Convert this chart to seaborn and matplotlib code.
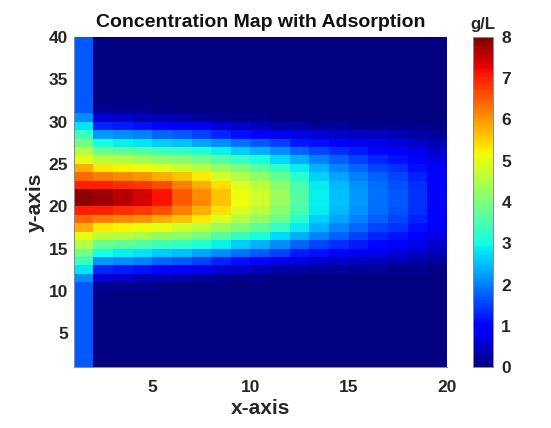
import numpy as np
import pandas as pd
import matplotlib
matplotlib.use("Agg")
import matplotlib.pyplot as plt
import seaborn as sns

# Grid edges (cells lie between consecutive edges)
x_edges = list(range(1, 21))   # 1..20
y_edges = list(range(1, 41))   # 1..40

# Concentration (g/L) per column, from the plume centre line outward.
# Offset 0 is the cell just above / just below y = 21; the profile is
# mirrored about y = 21. Cells beyond the listed offsets take the
# column's background value.
col_profiles = [
    [7.9, 7.0, 6.4, 5.8, 5.0, 4.5, 3.9, 3.4, 2.8, 2.1],
    [7.8, 7.0, 6.2, 5.3, 4.6, 3.8, 3.0, 2.2, 1.3, 0.6, 0.15],
    [7.6, 6.9, 6.1, 5.2, 4.5, 3.7, 2.9, 2.1, 1.2, 0.5, 0.1],
    [7.4, 6.8, 6.0, 5.1, 4.4, 3.6, 2.8, 2.0, 1.1, 0.4, 0.1],
    [7.1, 6.6, 5.8, 5.0, 4.2, 3.4, 2.6, 1.8, 1.0, 0.35, 0.05],
    [6.5, 6.2, 5.6, 4.8, 4.1, 3.3, 2.5, 1.7, 0.9, 0.3],
    [6.1, 5.8, 5.3, 4.6, 3.9, 3.1, 2.3, 1.5, 0.8, 0.2],
    [5.6, 5.4, 4.9, 4.3, 3.6, 2.9, 2.1, 1.3, 0.6, 0.15],
    [5.1, 4.9, 4.5, 4.0, 3.3, 2.6, 1.9, 1.1, 0.5, 0.1],
    [4.8, 4.6, 4.2, 3.7, 3.05, 2.4, 1.7, 1.0, 0.4, 0.1],
    [4.3, 4.1, 3.8, 3.3, 2.7, 2.1, 1.5, 0.8, 0.3],
    [3.6, 3.5, 3.2, 2.85, 2.35, 1.8, 1.2, 0.7, 0.25],
    [2.9, 2.85, 2.65, 2.4, 2.0, 1.55, 1.1, 0.6, 0.2],
    [2.5, 2.45, 2.3, 2.05, 1.75, 1.35, 0.9, 0.5, 0.2],
    [2.2, 2.15, 2.0, 1.8, 1.5, 1.2, 0.8, 0.45, 0.15],
    [1.9, 1.85, 1.75, 1.55, 1.3, 1.05, 0.75, 0.45, 0.15],
    [1.7, 1.65, 1.55, 1.4, 1.15, 0.9, 0.65, 0.35, 0.1],
    [1.4, 1.35, 1.25, 1.1, 0.95, 0.75, 0.5, 0.3, 0.1],
    [1.05, 1.0, 0.95, 0.85, 0.7, 0.55, 0.4, 0.2, 0.05],
]
col_background = [1.7] + [0.0] * 18

x_ticks = [5, 10, 15, 20]
y_ticks = [5, 10, 15, 20, 25, 30, 35, 40]
cbar_ticks = [0, 1, 2, 3, 4, 5, 6, 7, 8]

n_rows = len(y_edges) - 1
n_cols = len(x_edges) - 1
center_row = 20  # cell [21, 22]

grid = np.zeros((n_rows, n_cols))
for j, (prof, bg) in enumerate(zip(col_profiles, col_background)):
    grid[:, j] = bg
    for k, v in enumerate(prof):
        up = center_row + k
        down = center_row - 1 - k
        if up < n_rows:
            grid[up, j] = v
        if down >= 0:
            grid[down, j] = v

df = pd.DataFrame(grid, index=y_edges[:-1], columns=x_edges[:-1])

sns.set_style("white")
plt.rcParams["font.family"] = ["Liberation Sans", "DejaVu Sans"]
plt.rcParams["font.weight"] = "bold"

fig = plt.figure(figsize=(5.51, 4.28), dpi=100)
ax = fig.add_axes([0.1336, 0.1425, 0.6777, 0.7711])
cax = fig.add_axes([0.8585, 0.1425, 0.0363, 0.7711])

sns.heatmap(df, cmap="jet", vmin=0, vmax=8, ax=ax, cbar_ax=cax,
            cbar_kws={"ticks": cbar_ticks}, xticklabels=False,
            yticklabels=False)
ax.invert_yaxis()

ax.set_xticks([v - x_edges[0] for v in x_ticks])
ax.set_xticklabels([str(v) for v in x_ticks])
ax.set_yticks([v - y_edges[0] for v in y_ticks])
ax.set_yticklabels([str(v) for v in y_ticks], rotation=0)
ax.tick_params(axis="x", length=0, labelsize=12.5, pad=9)
ax.tick_params(axis="y", length=0, labelsize=12.5, pad=4)
for lab in ax.get_xticklabels() + ax.get_yticklabels():
    lab.set_fontweight("bold")
    lab.set_color("#262626")

for side in ["left", "bottom"]:
    ax.spines[side].set_visible(True)
    ax.spines[side].set_color("#8c8c8c")
    ax.spines[side].set_linewidth(0.8)

ax.set_xlabel("x-axis", fontsize=15, fontweight="bold", color="#262626", labelpad=3)
ax.set_ylabel("y-axis", fontsize=15, fontweight="bold", color="#262626", labelpad=3)
ax.set_title("Concentration Map with Adsorption", fontsize=14, fontweight="bold",
             color="#111111", pad=7)

cax.tick_params(length=3, width=0.6, direction="in", labelsize=12.5, pad=6,
                color="#555555")
for lab in cax.get_yticklabels():
    lab.set_fontweight("bold")
    lab.set_color("#262626")
cax.set_title("g/L", fontsize=12, fontweight="bold", color="#262626", pad=6)
for sp in cax.spines.values():
    sp.set_visible(True)
    sp.set_color("#8c8c8c")
    sp.set_linewidth(0.6)

fig.savefig("out.png", dpi=100)
